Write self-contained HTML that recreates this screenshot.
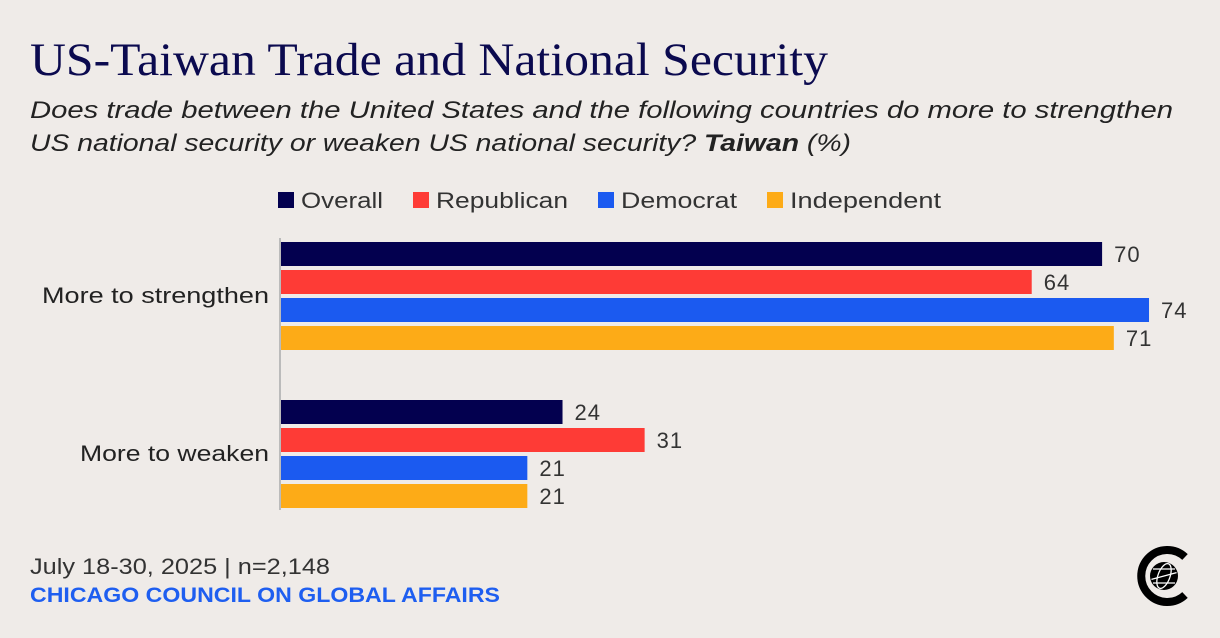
<!DOCTYPE html>
<html><head><meta charset="utf-8"><style>
body{margin:0;background:#efebe8;}
svg{display:block;font-family:"Liberation Sans",sans-serif;}
</style></head><body>
<svg id="c" width="1220" height="638" viewBox="0 0 1220 638">
<rect width="1220" height="638" fill="#efebe8"/>
<text x="30" y="75" font-family="Liberation Serif, serif" font-size="47" fill="#0b0a4f" textLength="798" lengthAdjust="spacingAndGlyphs">US-Taiwan Trade and National Security</text>
<text x="30" y="118" font-size="24" font-style="italic" fill="#222" textLength="1143" lengthAdjust="spacingAndGlyphs">Does trade between the United States and the following countries do more to strengthen</text>
<text x="30" y="151" font-size="24" font-style="italic" fill="#222" textLength="821" lengthAdjust="spacingAndGlyphs">US national security or weaken US national security? <tspan font-weight="bold">Taiwan</tspan> (%)</text>
<g id="legend"></g>
<g id="bars"></g>
<line x1="280" y1="238" x2="280" y2="510" stroke="#bbb" stroke-width="2"/>
<text x="30" y="574" font-size="22" fill="#333" textLength="300" lengthAdjust="spacingAndGlyphs">July 18-30, 2025 | n=2,148</text>
<text x="30" y="602" font-size="21" font-weight="bold" fill="#1e5ef0" textLength="470" lengthAdjust="spacingAndGlyphs">CHICAGO COUNCIL ON GLOBAL AFFAIRS</text>
<g>
<path d="M1185 557 A26 26 0 1 0 1185 595" fill="none" stroke="#000" stroke-width="8"/>
<circle cx="1164" cy="576" r="14" fill="#000"/>
<g stroke="#fff" stroke-width="1.3" fill="none">
<ellipse cx="1164" cy="576" rx="6" ry="13" transform="rotate(20 1164 576)"/>
<line x1="1151" y1="576" x2="1177" y2="576" transform="rotate(-15 1164 576)"/>
<line x1="1153" y1="569" x2="1175" y2="569"/>
<line x1="1153" y1="583" x2="1175" y2="583"/>
</g></g>
</svg>
<script>
const categories = ["More to strengthen", "More to weaken"];
const seriesNames = ["Overall", "Republican", "Democrat", "Independent"];
const overall = [70, 24];
const republican = [64, 31];
const democrat = [74, 21];
const independent = [71, 21];
const colors = ["#03004f", "#fe3b36", "#1b5af0", "#fdab17"];
const NS = "http://www.w3.org/2000/svg";
const series = [overall, republican, democrat, independent];
const catWidths = [227, 189];
const legWidths = [82, 132, 116, 151];
const x0 = 281, pxPer = 11.73;
const xScale = v => v * pxPer;
const groupTop = [242, 400], barH = 24, step = 28;
const bars = document.getElementById('bars');
function mk(tag, attrs, parent){const e=document.createElementNS(NS,tag);for(const k in attrs)e.setAttribute(k,attrs[k]);parent.appendChild(e);return e;}
categories.forEach((cat, ci) => {
  const t = mk('text', {x:269, y:groupTop[ci]+2*step+5, 'text-anchor':'end', 'font-size':22, fill:'#222', textLength:catWidths[ci], lengthAdjust:'spacingAndGlyphs'}, bars);
  t.textContent = cat;
  
  
  series.forEach((s, si) => {
    const y = groupTop[ci] + si*step;
    const r = mk('rect', {x:x0, y:y, width:xScale(s[ci]), height:barH, fill:colors[si]}, bars);
    
    
    const l = mk('text', {x:x0+xScale(s[ci])+12, y:y+20, 'font-size':22, fill:'#333', 'letter-spacing':1}, bars);
    l.textContent = s[ci];
    
    
  });
});
const legend = document.getElementById('legend');
const legX = [278, 413, 598, 767];
seriesNames.forEach((n, i) => {
  const g = mk('g', {}, legend);
  
  
  mk('rect', {x:legX[i], y:192, width:16, height:16, fill:colors[i]}, g);
  const t = mk('text', {x:legX[i]+23, y:208, 'font-size':22, fill:'#333', textLength:legWidths[i], lengthAdjust:'spacingAndGlyphs'}, g);
  t.textContent = n;
});
</script>
</body></html>
